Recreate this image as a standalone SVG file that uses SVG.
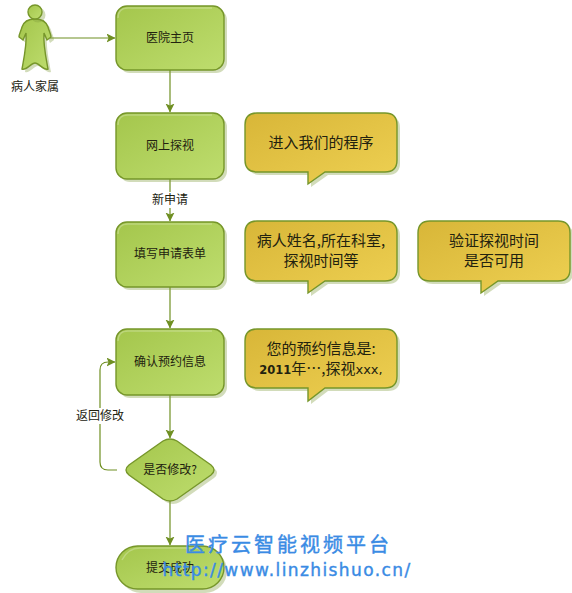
<svg xmlns="http://www.w3.org/2000/svg" width="572" height="593" viewBox="0 0 572 593">
<style>
text{font-family:"Noto Sans CJK SC","Liberation Sans",sans-serif;fill:#22220f;text-anchor:middle}
.s{font-size:12px}
.m{font-size:15px}
.g{fill:url(#gg);stroke:#76962a;stroke-width:1.4}
.y{fill:url(#gy);stroke:#76962a;stroke-width:1.4}
.sh{fill:#7d9a3a;opacity:.35}
.hi{fill:none;stroke:#fff;stroke-opacity:.25;stroke-width:1.5}
.c{fill:none;stroke:#6f8f22;stroke-width:1.2}
.w{fill:#3a8be4;stroke:#3a8be4;stroke-width:.4}
</style>
<defs>
<linearGradient id="gg" x1="0" y1="0" x2="1" y2="1"><stop offset="0" stop-color="#a4c64c"/><stop offset="1" stop-color="#bedd6e"/></linearGradient>
<linearGradient id="gy" x1="0" y1="0" x2="1" y2="1"><stop offset="0" stop-color="#d8b638"/><stop offset="1" stop-color="#eed052"/></linearGradient>
<marker id="a" markerWidth="10" markerHeight="10" refX="8.5" refY="4.5" orient="auto" markerUnits="userSpaceOnUse"><path d="M0 0L9 4.5L0 9L2 4.5Z" fill="#6f8f22"/></marker>
</defs>
<g id="connectors">
<path class="c" marker-end="url(#a)" d="M50 38H115"/>
<path class="c" marker-end="url(#a)" d="M170 70V112"/>
<path class="c" marker-end="url(#a)" d="M170 179V221"/>
<path class="c" marker-end="url(#a)" d="M170 287V328"/>
<path class="c" marker-end="url(#a)" d="M170 395V438"/>
<path class="c" marker-end="url(#a)" d="M170 501V545"/>
<path class="c" marker-end="url(#a)" d="M117 470H108Q100 470 100 462V370Q100 362 108 362H115"/>
<rect x="148" y="192" width="44" height="16" fill="#fff"/>
<text class="s" x="170" y="204">新申请</text>
<rect x="75" y="408" width="50" height="16" fill="#fff"/>
<text class="s" x="100" y="420">返回修改</text>
</g>
<g id="person">
<path class="sh" transform="translate(3 3)" d="M35 19C28 19 24 21 22 27C21 31 19 34 19 37L23 40L26 33C27 44 24 58 22 69C26 71 31 63 35 63C39 63 44 71 48 69C46 58 43 44 44 33L47 40L51 37C51 34 49 31 48 27C46 21 42 19 35 19Z"/>
<path class="g" d="M35 19C28 19 24 21 22 27C21 31 19 34 19 37L23 40L26 33C27 44 24 58 22 69C26 71 31 63 35 63C39 63 44 71 48 69C46 58 43 44 44 33L47 40L51 37C51 34 49 31 48 27C46 21 42 19 35 19Z"/>
<circle class="sh" cx="38" cy="15" r="7.5"/>
<circle class="g" cx="35" cy="12" r="7"/>
<text class="s" x="35" y="91">病人家属</text>
</g>
<g id="n1"><rect class="sh" x="119" y="9" width="108" height="64" rx="11"/><rect class="g" x="116" y="6" width="108" height="64" rx="11"/><path class="hi" d="M118 18Q118 8 128 8H212"/><text class="s" x="170" y="42">医院主页</text></g>
<g id="n2"><rect class="sh" x="119" y="116" width="108" height="66" rx="11"/><rect class="g" x="116" y="113" width="108" height="66" rx="11"/><path class="hi" d="M118 125Q118 115 128 115H212"/><text class="s" x="170" y="150">网上探视</text></g>
<g id="n3"><rect class="sh" x="119" y="225" width="108" height="65" rx="11"/><rect class="g" x="116" y="222" width="108" height="65" rx="11"/><path class="hi" d="M118 234Q118 224 128 224H212"/><text class="s" x="170" y="258">填写申请表单</text></g>
<g id="n4"><rect class="sh" x="119" y="332" width="108" height="66" rx="11"/><rect class="g" x="116" y="329" width="108" height="66" rx="11"/><path class="hi" d="M118 341Q118 331 128 331H212"/><text class="s" x="170" y="366">确认预约信息</text></g>
<g id="d1"><path class="sh" transform="translate(3 3)" d="M163 441Q170 437 177 441L211 465Q217 470 211 475L177 499Q170 503 163 499L129 475Q123 470 129 465Z"/><path class="g" d="M163 441Q170 437 177 441L211 465Q217 470 211 475L177 499Q170 503 163 499L129 475Q123 470 129 465Z"/><text class="s" x="170" y="474">是否修改?</text></g>
<g id="n5"><rect class="sh" x="119" y="549" width="108" height="44" rx="22"/><rect class="g" x="116" y="546" width="108" height="43" rx="21.5"/><path class="hi" d="M122 560Q128 548 140 548H200"/><text class="s" x="170" y="572">提交成功</text></g>
<g id="c1"><path class="sh" transform="translate(3 3)" d="M257 113H385Q397 113 397 125V160Q397 172 385 172H325L308 184V172H257Q245 172 245 160V125Q245 113 257 113Z"/><path class="y" d="M257 113H385Q397 113 397 125V160Q397 172 385 172H325L308 184V172H257Q245 172 245 160V125Q245 113 257 113Z"/><text class="m" x="321" y="148">进入我们的程序</text></g>
<g id="c2"><path class="sh" transform="translate(3 3)" d="M257 221H385Q397 221 397 233V269Q397 281 385 281H325L308 293V281H257Q245 281 245 269V233Q245 221 257 221Z"/><path class="y" d="M257 221H385Q397 221 397 233V269Q397 281 385 281H325L308 293V281H257Q245 281 245 269V233Q245 221 257 221Z"/><text class="m" x="321" y="246">病人姓名,所在科室,</text><text class="m" x="321" y="266">探视时间等</text></g>
<g id="c3"><path class="sh" transform="translate(3 3)" d="M430 221H558Q570 221 570 233V269Q570 281 558 281H498L481 293V281H430Q418 281 418 269V233Q418 221 430 221Z"/><path class="y" d="M430 221H558Q570 221 570 233V269Q570 281 558 281H498L481 293V281H430Q418 281 418 269V233Q418 221 430 221Z"/><text class="m" x="494" y="246">验证探视时间</text><text class="m" x="494" y="266">是否可用</text></g>
<g id="c4"><path class="sh" transform="translate(3 3)" d="M257 329H385Q397 329 397 341V376Q397 388 385 388H325L308 401V388H257Q245 388 245 376V341Q245 329 257 329Z"/><path class="y" d="M257 329H385Q397 329 397 341V376Q397 388 385 388H325L308 401V388H257Q245 388 245 376V341Q245 329 257 329Z"/><text class="m" x="321" y="354">您的预约信息是:</text><text class="m" x="321" y="374"><tspan style="font-family:'DejaVu Sans',sans-serif;font-size:11.5px;font-weight:bold">2011</tspan>年…,探视<tspan style="font-family:'DejaVu Sans',sans-serif;font-size:13px">xxx,</tspan></text></g>
<g id="watermark"><text class="w" x="288.5" y="552" style="font-size:20px;letter-spacing:3px">医疗云智能视频平台</text><text class="w" x="287" y="576" style="font-family:'DejaVu Sans',sans-serif;font-size:17px;letter-spacing:1.4px">http://www.linzhishuo.cn/</text></g>
</svg>
